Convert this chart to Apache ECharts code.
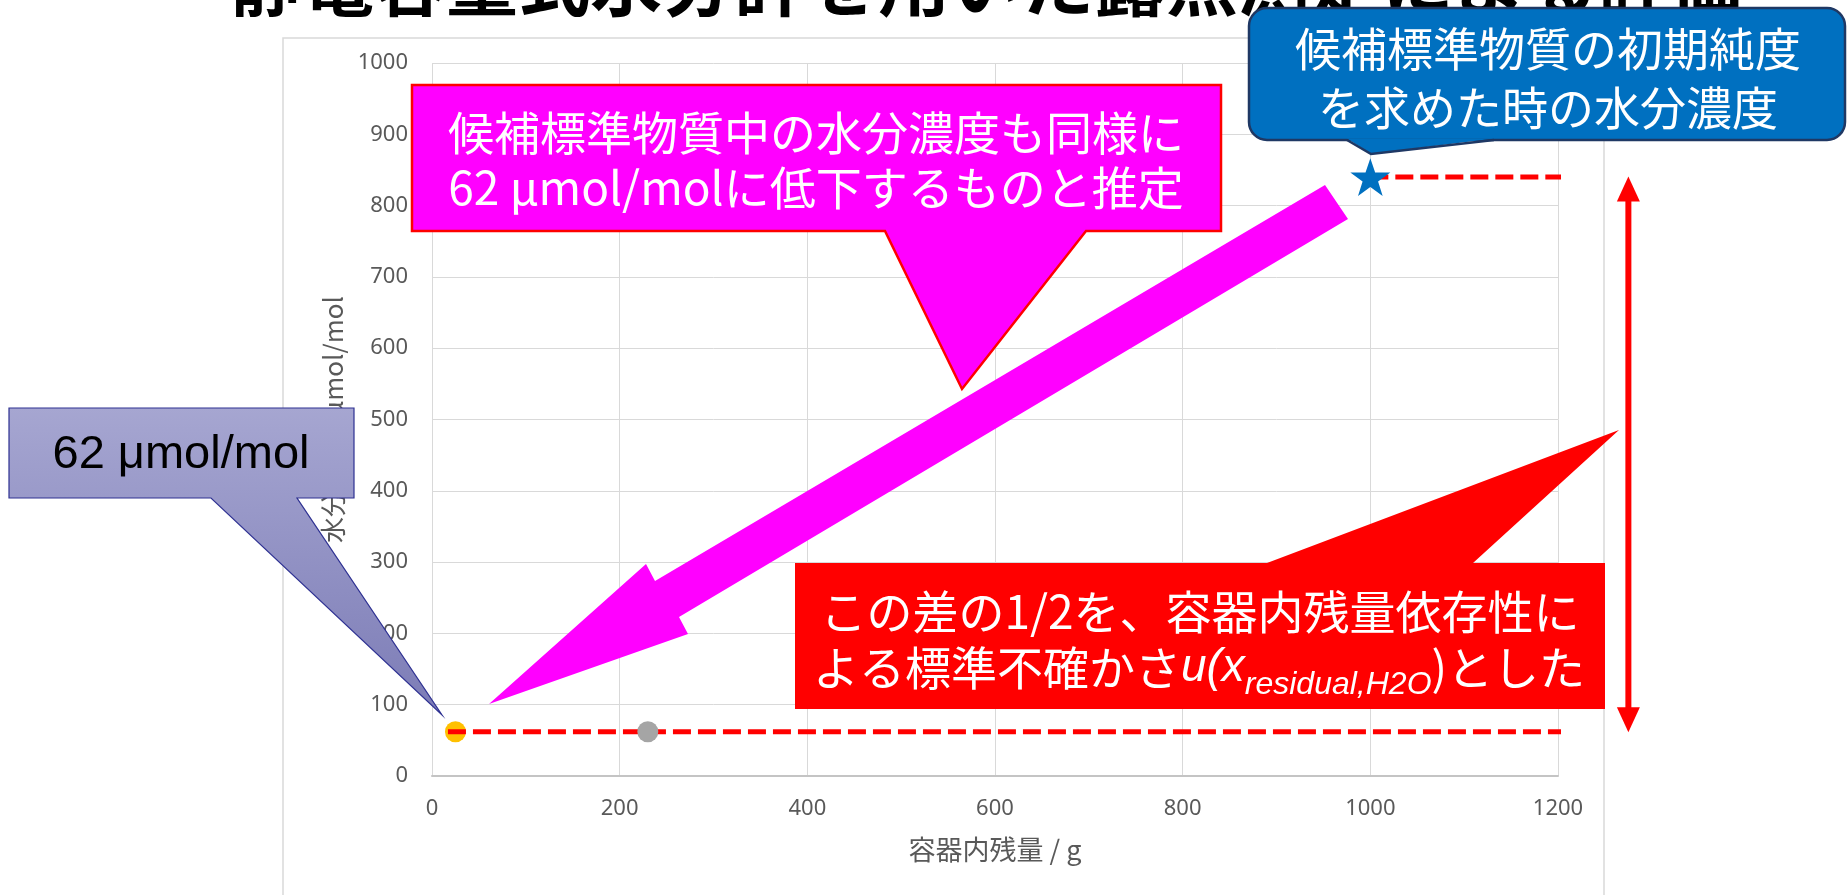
<!DOCTYPE html>
<html lang="ja">
<head>
<meta charset="utf-8">
<title>静電容量式水分計を用いた露点測定による評価</title>
<script src="https://cdn.jsdelivr.net/npm/echarts@6/dist/echarts.min.js"></script>
<style>
  html, body { margin: 0; padding: 0; background: #ffffff; }
  #chart { width: 1847px; height: 895px; }
</style>
</head>
<body>
<div id="chart"></div>
<script>
// 容器内残量 (g) と水分濃度 (μmol/mol)
const lowMass = [25];          // 残量が少ない時点
const lowWater = [62];
const midMass = [230];         // 途中の測定
const midWater = [62];
const initMass = [1000];       // 初期純度を求めた時点
const initWater = [840];

// 差を示す補助線の範囲 (g)
const lowGuideMass = [17, 1350];
const initGuideMass = [1000, 1350];
const diffArrowMass = [1275];

// 軸の目盛
const xTicks = [0, 200, 400, 600, 800, 1000, 1200];
const yTicks = [0, 100, 200, 300, 400, 500, 600, 700, 800, 900, 1000];

const CJK = '"Noto Sans CJK JP", "Noto Sans", sans-serif';
const LATIN = '"Liberation Sans", Arial, sans-serif';
const AXIS_COLOR = '#595959';
const GRID_COLOR = '#d9d9d9';

const chart = echarts.init(document.getElementById('chart'), null, { renderer: 'canvas' });

// 文字幅の測定 (下付き文字を含む行の配置用)
const measureCtx = document.createElement('canvas').getContext('2d');
function textWidth(str, font) {
  measureCtx.font = font;
  return measureCtx.measureText(str).width;
}

function txt(text, x, y, font, fill, align, z) {
  return {
    type: 'text',
    z: z,
    silent: true,
    style: {
      text: text, x: x, y: y, font: font, fill: fill,
      textAlign: align, align: align,
      textVerticalAlign: 'middle', verticalAlign: 'middle'
    }
  };
}

// 赤い吹き出しの2行目: よる標準不確かさu(x_residual,H2O)とした
function residualLine(cx, cy) {
  const fMain = '46px ' + CJK;
  const fIt = 'italic 46px ' + LATIN;
  const fSub = 'italic 32px ' + LATIN;
  const parts = [
    { s: 'よる標準不確かさ', f: fMain, dy: 0 },
    { s: 'u(x', f: fIt, dy: 0 },
    { s: 'residual,H2O', f: fSub, dy: 17 },
    { s: ')とした', f: fMain, dy: 0 }
  ];
  const widths = parts.map(p => textWidth(p.s, p.f));
  const total = widths.reduce((a, b) => a + b, 0);
  let x = cx - total / 2;
  return parts.map((p, i) => {
    const el = txt(p.s, x, cy + p.dy, p.f, '#ffffff', 'left', 130);
    x += widths[i];
    return el;
  });
}

const diffLow = lowWater[0];
const diffHigh = initWater[0];
const plainNumber = v => String(v);

const option = {
  animation: false,
  backgroundColor: '#ffffff',
  grid: { left: 432, top: 63, width: 1126, height: 713, containLabel: false },
  xAxis: {
    type: 'value',
    min: xTicks[0],
    max: xTicks[xTicks.length - 1],
    interval: xTicks[1] - xTicks[0],
    name: '容器内残量 / g',
    nameLocation: 'middle',
    nameGap: 60,
    nameTextStyle: { color: AXIS_COLOR, fontSize: 27, fontFamily: CJK },
    axisLine: { show: true, lineStyle: { color: '#c4c4c4', width: 2 } },
    axisTick: { show: false },
    axisLabel: { color: AXIS_COLOR, fontSize: 22, fontFamily: '"Noto Sans", sans-serif', margin: 22, formatter: plainNumber },
    splitLine: { show: true, lineStyle: { color: GRID_COLOR, width: 1 } }
  },
  yAxis: {
    type: 'value',
    min: yTicks[0],
    max: yTicks[yTicks.length - 1],
    interval: yTicks[1] - yTicks[0],
    name: '水分濃度 / μmol/mol',
    nameLocation: 'middle',
    nameGap: 86,
    nameTextStyle: { color: AXIS_COLOR, fontSize: 26, fontFamily: CJK },
    axisLine: { show: false },
    axisTick: { show: false },
    axisLabel: { color: AXIS_COLOR, fontSize: 22, fontFamily: '"Noto Sans", sans-serif', margin: 24, formatter: plainNumber },
    splitLine: { show: true, lineStyle: { color: GRID_COLOR, width: 1 } }
  },
  series: [
    {
      name: '残量少',
      type: 'scatter',
      z: 2,
      symbol: 'circle',
      symbolSize: 21,
      itemStyle: { color: '#FFC000', opacity: 1 },
      data: lowMass.map((m, i) => [m, lowWater[i]])
    },
    {
      name: '低下後の水分濃度',
      type: 'line',
      z: 3,
      clip: false,
      showSymbol: false,
      lineStyle: { color: '#FF0000', width: 5, type: [18, 7] },
      data: lowGuideMass.map(m => [m, diffLow])
    },
    {
      name: '初期の水分濃度',
      type: 'line',
      z: 3,
      clip: false,
      showSymbol: false,
      lineStyle: { color: '#FF0000', width: 5, type: [18, 7] },
      data: initGuideMass.map(m => [m, diffHigh])
    },
    {
      // 両矢印の先端
      name: '差の矢じり',
      type: 'scatter',
      z: 3,
      clip: false,
      symbol: 'triangle',
      symbolSize: [23, 25],
      itemStyle: { color: '#FF0000', opacity: 1 },
      data: [
        { value: [diffArrowMass[0], diffHigh], symbolOffset: [0, 12] },
        { value: [diffArrowMass[0], diffLow], symbolRotate: 180, symbolOffset: [0, -12] }
      ]
    },
    {
      name: '残量中',
      type: 'scatter',
      z: 4,
      symbol: 'circle',
      symbolSize: 21,
      itemStyle: { color: '#A5A5A5', opacity: 1 },
      data: midMass.map((m, i) => [m, midWater[i]])
    },
    {
      name: '初期',
      type: 'scatter',
      z: 5,
      clip: false,
      symbol: 'path://M50,0 L61.8,35.4 L99,35.4 L69,57.3 L80.2,92.7 L50,70.8 L19.8,92.7 L31,57.3 L1,35.4 L38.2,35.4 Z',
      symbolKeepAspect: true,
      symbolSize: 40,
      itemStyle: { color: '#0070C0', opacity: 1 },
      data: initMass.map((m, i) => [m, initWater[i]])
    }
  ],
  graphic: {
    elements: [
      // グラフエリアの枠
      {
        type: 'rect', z: -1, silent: true,
        shape: { x: 283, y: 38, width: 1321, height: 900 },
        style: { fill: 'none', stroke: GRID_COLOR, lineWidth: 1.5 }
      },
      // スライドタイトル
      txt('静電容量式水分計を用いた露点測定による評価', 986, -17,
          'bold 72px ' + CJK, '#000000', 'center', 50),
      // 太い矢印
      {
        type: 'polygon', z: 100, silent: true,
        shape: { points: [[489, 704], [646, 564], [655, 581], [1325, 185], [1348, 219], [679, 617], [688, 634]] },
        style: { fill: '#FF00FF' }
      },
      // 紫の吹き出し
      {
        type: 'polygon', z: 110, silent: true,
        shape: { points: [[9, 408], [354, 408], [354, 498], [297, 498], [442, 715], [211, 498], [9, 498]] },
        style: {
          fill: new echarts.graphic.LinearGradient(0, 0, 0, 1, [
            { offset: 0, color: '#a6a6d1' },
            { offset: 1, color: '#7c7cb6' }
          ]),
          stroke: '#2e3192', lineWidth: 1.2
        }
      },
      txt(lowWater[0] + ' μmol/mol', 181, 455, '47px ' + LATIN, '#000000', 'center', 120),
      // マゼンタの吹き出し
      {
        type: 'polygon', z: 110, silent: true,
        shape: { points: [[412, 85], [1221, 85], [1221, 231], [1086, 231], [962, 389], [885, 231], [412, 231]] },
        style: { fill: '#FF00FF', stroke: '#FF0000', lineWidth: 2.5 }
      },
      txt('候補標準物質中の水分濃度も同様に', 816, 133, '46px ' + CJK, '#ffffff', 'center', 120),
      txt(lowWater[0] + ' μmol/molに低下するものと推定', 816, 188, '46px ' + CJK, '#ffffff', 'center', 120),
      // 赤い吹き出し
      {
        type: 'polygon', z: 110, silent: true,
        shape: { points: [[795, 563], [1267, 563], [1619, 430], [1473, 563], [1605, 563], [1605, 709], [795, 709]] },
        style: { fill: '#FF0000' }
      },
      txt('この差の1/2を、容器内残量依存性に', 1200, 612, '46px ' + CJK, '#ffffff', 'center', 130),
      ...residualLine(1199, 668),
      // 青い吹き出し (角丸の本体 + 指し示す部分)
      {
        type: 'rect', z: 140, silent: true,
        shape: { x: 1249, y: 8, width: 596, height: 132, r: 18 },
        style: { fill: '#0070C0', stroke: '#1F3864', lineWidth: 2.5 }
      },
      {
        type: 'polygon', z: 141, silent: true,
        shape: { points: [[1494, 138.5], [1371, 154], [1347, 138.5]] },
        style: { fill: '#0070C0' }
      },
      {
        type: 'polyline', z: 142, silent: true,
        shape: { points: [[1494, 140], [1371, 154], [1347, 140]] },
        style: { fill: null, stroke: '#1F3864', lineWidth: 2.5 }
      },
      txt('候補標準物質の初期純度', 1548, 49, '46px ' + CJK, '#ffffff', 'center', 150),
      txt('を求めた時の水分濃度', 1548, 108, '46px ' + CJK, '#ffffff', 'center', 150)
    ]
  }
};

chart.setOption(option);

// 両矢印の軸: 2つの水分濃度の間を座標系の目盛から求めて描く
const topPt = chart.convertToPixel({ gridIndex: 0 }, [diffArrowMass[0], diffHigh]);
const botPt = chart.convertToPixel({ gridIndex: 0 }, [diffArrowMass[0], diffLow]);
const shaftW = 6;
chart.setOption({
  graphic: {
    elements: [{
      id: 'diffShaft',
      type: 'rect', z: 90, silent: true,
      shape: {
        x: topPt[0] - shaftW / 2,
        y: topPt[1] + 20,
        width: shaftW,
        height: (botPt[1] - 20) - (topPt[1] + 20)
      },
      style: { fill: '#FF0000' }
    }]
  }
});
</script>
</body>
</html>
